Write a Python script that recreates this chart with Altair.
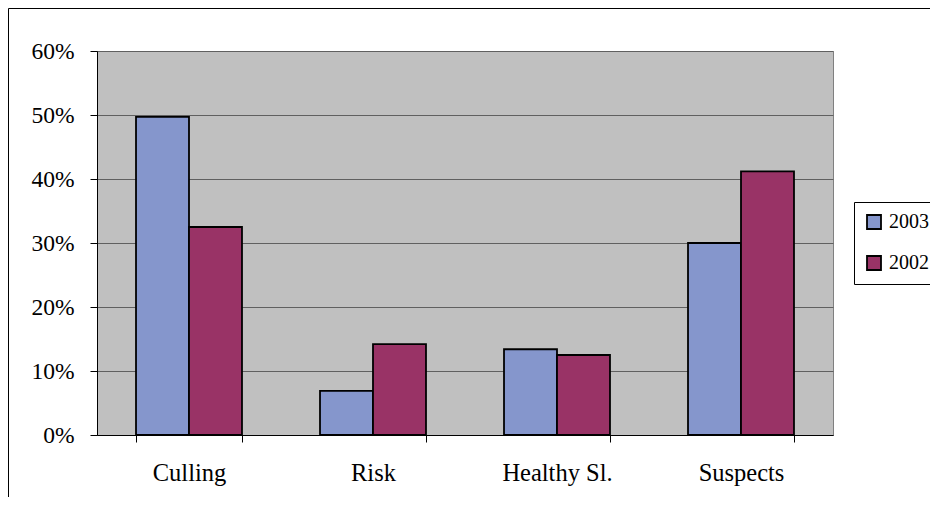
import altair as alt
import pandas as pd

categories = ["Culling", "Risk", "Healthy Sl.", "Suspects"]
years = ["2003", "2002"]
v2003 = [0.497, 0.069, 0.134, 0.300]
v2002 = [0.325, 0.142, 0.125, 0.412]
y_ticks = [0, 0.1, 0.2, 0.3, 0.4, 0.5, 0.6]
colors = ["#8596CC", "#993366"]

rows = []
for c, a, b in zip(categories, v2003, v2002):
    rows.append({"category": c, "year": "2003", "value": a})
    rows.append({"category": c, "year": "2002", "value": b})
df = pd.DataFrame(rows)

FONT = "Liberation Serif"

bars = alt.Chart(df).mark_bar(stroke="black", strokeWidth=1.8).encode(
    x=alt.X("category:N", sort=categories, title=None,
            scale=alt.Scale(paddingInner=0.424, paddingOuter=0.212),
            axis=alt.Axis(labelAngle=0, labelFont=FONT, labelFontSize=24.5,
                          labelColor="black", labelPadding=19,
                          tickBand="extent", tickSize=7, tickColor="black",
                          domainColor="black", grid=False)),
    xOffset=alt.XOffset("year:N", sort=years),
    y=alt.Y("value:Q", title=None,
            scale=alt.Scale(domain=[0, 0.6], nice=False),
            axis=alt.Axis(values=y_ticks, format=".0%", labelFont=FONT,
                          labelFontSize=23.5, labelColor="black", labelPadding=16,
                          tickSize=7, tickColor="black", domainColor="black",
                          grid=True, gridColor="#606060", gridWidth=1)),
    fill=alt.Fill("year:N", sort=years,
                  scale=alt.Scale(domain=years, range=colors),
                  legend=alt.Legend(title=None, orient="none", legendX=757,
                                    legendY=151, padding=10, rowPadding=19,
                                    symbolType="square", symbolSize=196,
                                    symbolStrokeColor="black",
                                    symbolStrokeWidth=1.8,
                                    labelFont=FONT, labelFontSize=20,
                                    labelColor="black", labelOffset=5,
                                    strokeColor="black", fillColor="white")),
)

border = alt.Chart(pd.DataFrame({"a": [0]})).mark_rect(
    filled=False, stroke="black", strokeWidth=1
).encode(
    x=alt.value(-88.5), x2=alt.value(860), y=alt.value(-42.5), y2=alt.value(470)
)

chart = alt.layer(border, bars).properties(
    width=736, height=384,
    autosize=alt.AutoSizeParams(type="none"),
    padding={"left": 89, "top": 43, "right": 97, "bottom": 62},
    background="white",
).configure_view(fill="#C0C0C0", stroke="#808080", strokeWidth=1)

chart.save("out.html", embed_options={"renderer": "svg", "actions": False})
